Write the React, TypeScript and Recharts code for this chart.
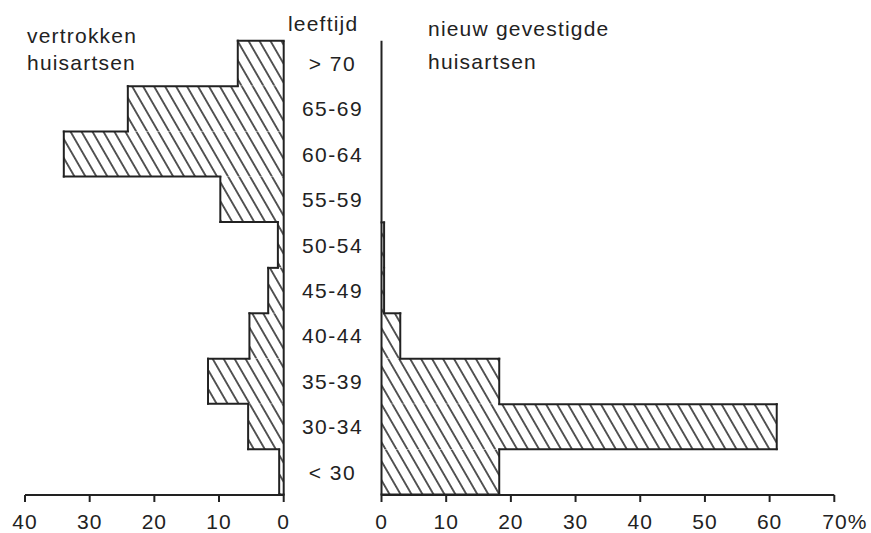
import { Bar, BarChart, ReferenceLine, XAxis, YAxis } from "recharts";

const ages = ["> 70", "65-69", "60-64", "55-59", "50-54", "45-49", "40-44", "35-39", "30-34", "< 30"];
const vertrokken = [7.1, 24.1, 34.0, 9.8, 0.9, 2.4, 5.3, 11.7, 5.5, 0.7];
const nieuw = [0, 0, 0, 0, 0.4, 0.4, 2.9, 18.2, 61.1, 18.2];
const leftTicks = [0, 10, 20, 30, 40];
const rightTicks = [0, 10, 20, 30, 40, 50, 60, 70];

const INK = "#222";
const FONT = "'Liberation Sans', Arial, sans-serif";

const rows = ages.map((age, i) => ({ age, left: vertrokken[i], right: nieuw[i] }));

// hatched bar that only outlines the edges not shared with a neighbour
function hatchShape(values: number[], side: number, fillId: string) {
  return (props: any) => {
    const { x, y, width, height, index } = props;
    const v = values[index];
    if (!v || !width) return <g />;
    const w = Math.abs(width);
    const k = w / v;
    const zero = side < 0 ? Math.max(x, x + width) : Math.min(x, x + width);
    const end = zero + side * w;
    const above = index > 0 ? values[index - 1] : 0;
    const below = index < values.length - 1 ? values[index + 1] : 0;
    const line = { stroke: INK, strokeWidth: 2, strokeLinecap: "square" as const };
    return (
      <g>
        <rect x={Math.min(zero, end)} y={y} width={w} height={height} fill={`url(#${fillId})`} />
        {v > above && <line x1={zero + side * k * above} x2={end} y1={y} y2={y} {...line} />}
        {v > below && <line x1={zero + side * k * below} x2={end} y1={y + height} y2={y + height} {...line} />}
        <line x1={end} x2={end} y1={y} y2={y + height} {...line} />
      </g>
    );
  };
}

function Hatch({ id }: { id: string }) {
  return (
    <defs>
      <pattern id={id} patternUnits="userSpaceOnUse" width={9.5} height={9.5} patternTransform="rotate(-30)">
        <line x1={4.75} y1={0} x2={4.75} y2={9.5} stroke={INK} strokeWidth={1.5} />
      </pattern>
    </defs>
  );
}

function NumTick({ x, y, payload, pct }: any) {
  const last = pct && payload.value === 70;
  return (
    <text
      x={last ? x - 12 : x}
      y={y}
      dy={26.5}
      textAnchor={last ? "start" : "middle"}
      fill={INK}
      fontSize={21}
      fontFamily={FONT}
      letterSpacing={1}
    >
      {payload.value}
      {last ? "%" : ""}
    </text>
  );
}

function AgeTick({ x, y, payload }: any) {
  return (
    <text x={x - 49} y={y} dy={7.5} textAnchor="middle" fill={INK} fontSize={21} fontFamily={FONT} letterSpacing={1.5}>
      {payload.value}
    </text>
  );
}

const abs: any = { position: "absolute", left: 0, top: 0 };
const title: any = { position: "absolute", fontFamily: FONT, fontSize: 21, color: INK, letterSpacing: 1.2, whiteSpace: "nowrap" };

export default function App() {
  return (
    <div style={{ position: "absolute", left: 0, top: 0, width: 871, height: 533, background: "#fff", overflow: "hidden" }}>
      <div style={abs}>
        <BarChart width={871} height={533} data={rows} layout="vertical" barCategoryGap={0} barGap={0}
          margin={{ top: 40.7, right: 587.3, bottom: 0, left: 25 }}>
          <Hatch id="hatchL" />
          <XAxis type="number" domain={[0, 40]} ticks={leftTicks} reversed height={38} tickSize={7} tickMargin={0}
            axisLine={{ stroke: INK, strokeWidth: 2 }} tickLine={{ stroke: INK, strokeWidth: 2 }} tick={<NumTick />} />
          <YAxis type="category" dataKey="age" hide />
          <Bar dataKey="left" isAnimationActive={false} shape={hatchShape(vertrokken, -1, "hatchL")} />
          <ReferenceLine x={0} stroke={INK} strokeWidth={2} />
        </BarChart>
      </div>
      <div style={abs}>
        <BarChart width={871} height={533} data={rows} layout="vertical" barCategoryGap={0} barGap={0}
          margin={{ top: 40.7, right: 36.7, bottom: 0, left: 281.5 }}>
          <Hatch id="hatchR" />
          <XAxis type="number" domain={[0, 70]} ticks={rightTicks} height={38} tickSize={7} tickMargin={0}
            axisLine={{ stroke: INK, strokeWidth: 2 }} tickLine={{ stroke: INK, strokeWidth: 2 }} tick={<NumTick pct />} />
          <YAxis type="category" dataKey="age" width={100} axisLine={false} tickLine={false} tickSize={0} tickMargin={0}
            interval={0} tick={<AgeTick />} />
          <Bar dataKey="right" isAnimationActive={false} shape={hatchShape(nieuw, 1, "hatchR")} />
          <ReferenceLine x={0} stroke={INK} strokeWidth={2} />
        </BarChart>
      </div>
      <div style={{ ...title, left: 27, top: 21.6, lineHeight: "27px" }}>
        vertrokken<br />huisartsen
      </div>
      <div style={{ ...title, left: 288, top: 10, lineHeight: "27px" }}>leeftijd</div>
      <div style={{ ...title, left: 428, top: 14.6, lineHeight: "27px" }}>nieuw gevestigde</div>
      <div style={{ ...title, left: 428, top: 47.6, lineHeight: "27px" }}>huisartsen</div>
    </div>
  );
}
